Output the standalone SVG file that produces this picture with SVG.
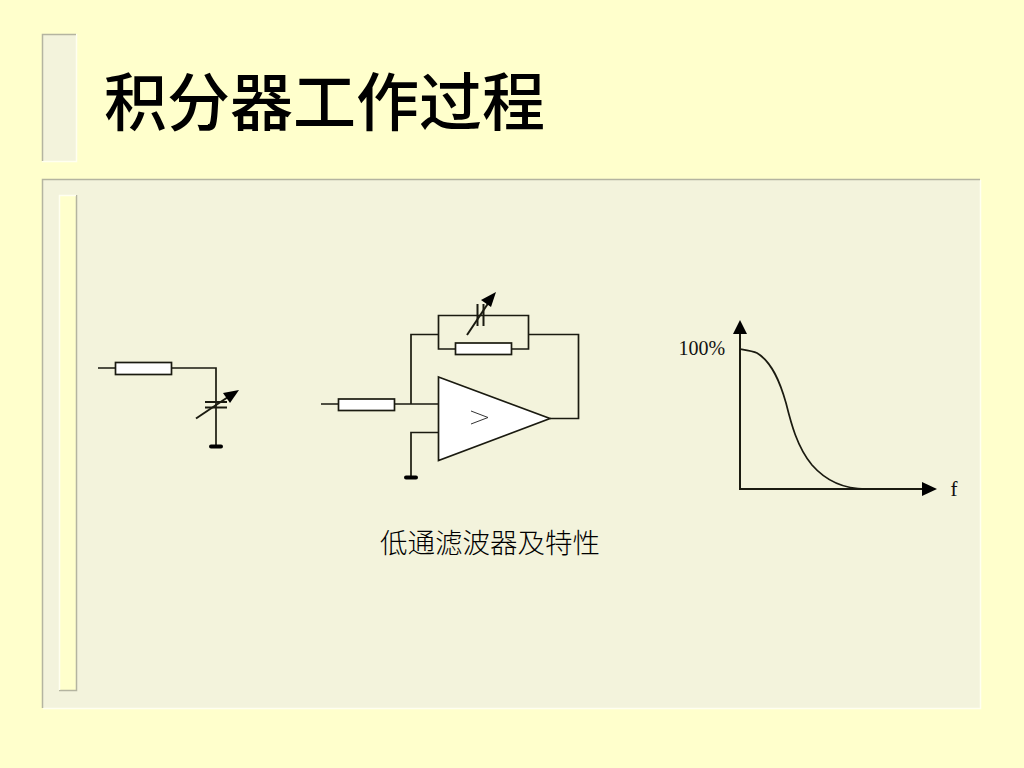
<svg xmlns="http://www.w3.org/2000/svg" width="1024" height="768" viewBox="0 0 1024 768">
<style>
.w{fill:none;stroke:#1a1a10;stroke-width:1.700}
.r{fill:#fff;stroke:#1a1a10;stroke-width:1.700}
.t{stroke:#1a1a10;stroke-width:2;fill:none}
.g{stroke:#000;stroke-width:4;stroke-linecap:round}
.a{fill:#000}
.edge-d{fill:none;stroke:#b4b4a0;stroke-width:1.500}
.edge-l{fill:none;stroke:#fffff0;stroke-width:1.500}
.cjk{font-family:"Noto Sans CJK SC","Noto Sans CJK JP",sans-serif;fill:#000}
.lat{font-family:"Liberation Serif",serif;fill:#111}
</style>
<rect width="1024" height="768" fill="#ffffcc"/>
<g id="title-bar">
<rect x="42" y="34" width="34" height="127" fill="#f3f3dc"/>
<path class="edge-l" d="M76.500 34V161.500H42"/>
<path class="edge-d" d="M42.500 161V34.500H76"/>
</g>
<g id="panel">
<rect x="42" y="179" width="938" height="529" fill="#f3f3dc"/>
<path class="edge-l" d="M980.500 180V708.500H43"/>
<path class="edge-d" d="M42.500 708V179.500H980"/>
<rect x="59" y="195" width="18" height="496" fill="#ffffcc"/>
<path class="edge-d" d="M59 690.500H76.500V195"/>
<path class="edge-l" d="M59.500 690V195.500H76"/>
</g>
<text id="title" class="cjk" x="104" y="125" font-size="63" font-weight="500">积分器工作过程</text>
<g id="connectors">
<path class="w" d="M98 368H115M171 368H216V446"/>
<path class="w" d="M321 404H338M394 404H438M411 404V334.500H438M438.500 334.500V315.500H528.500V349H511M455.500 349H438.500V334.500M528.500 334.500H578.500V418.500H550M438 432.500H411V477"/>
</g>
<g id="filter-left">
<rect class="r" x="115.500" y="362.500" width="56" height="12"/>
<path class="t" d="M205 402H227M205 407.500H227"/>
<path class="t" d="M196 418.500L231 395"/>
<polygon class="a" points="239,390 223,393 230,403"/>
<path class="g" d="M211 446.500H221"/>
</g>
<g id="integrator">
<rect class="r" x="338.500" y="399" width="56" height="11.500"/>
<rect class="r" x="455.500" y="343" width="56" height="11.500"/>
<path class="t" d="M477.500 304V326M483.500 304V326"/>
<path class="t" d="M467 335L491 299"/>
<polygon class="a" points="496,292 481,300 491,307"/>
<polygon class="r" points="438.500,377 550,418.500 438.500,460.500"/>
<path fill="none" stroke="#333" stroke-width="1" d="M471 411L488 417.500L471 424"/>
<path class="g" d="M406 477.500H416"/>
</g>
<g id="response-chart">
<path class="t" d="M740 332V489H924"/>
<polygon class="a" points="740,320 733,334 747,334"/>
<polygon class="a" points="937,489 922,482 922,496"/>
<path class="w" d="M740 349C746 350 753 351 757 353C772 362 780 382 786 403C791 423 797 447 812 465C826 481 843 489 866 489"/>
<text class="lat" x="678.500" y="355" font-size="20">100%</text>
<text class="lat" x="950.500" y="496" font-size="21">f</text>
</g>
<text id="caption" class="cjk" x="380" y="553" font-size="27.500" font-weight="300">低通滤波器及特性</text>
</svg>
